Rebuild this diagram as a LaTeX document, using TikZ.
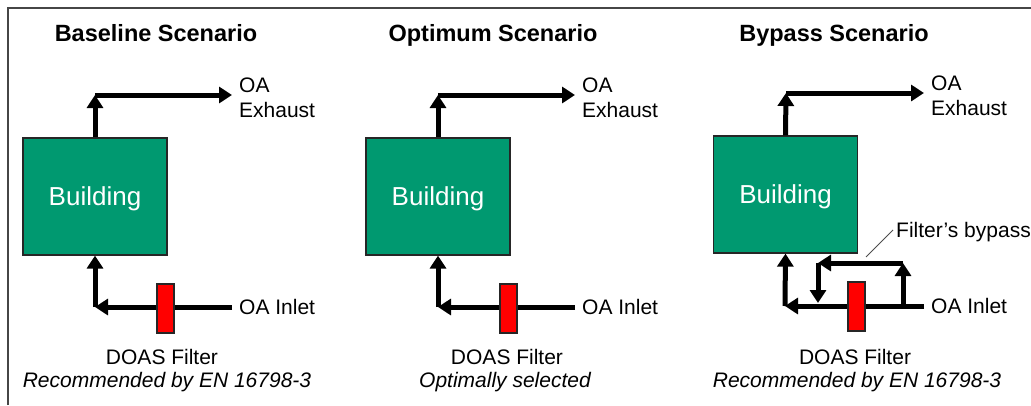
\documentclass[tikz,border=0pt]{standalone}
\usepackage{fontspec}
\setmainfont{Liberation Sans}
\usetikzlibrary{arrows.meta, positioning}

\definecolor{bldgreen}{RGB}{0,153,112}
\definecolor{framegray}{RGB}{70,70,70}

\tikzset{
  flow/.style={line width=5pt, -{Triangle[width=16pt,length=13pt]}},
  building/.style={draw=black!85, line width=1.2pt, fill=bldgreen, text=white,
    minimum width=144pt, minimum height=117pt, inner sep=0pt, text depth=0pt,
    font=\fontsize{26}{30}\selectfont},
  filterbox/.style={draw=black!85, line width=1.2pt, fill=red,
    minimum width=17pt, minimum height=49pt, inner sep=0pt},
  title/.style={font=\fontsize{23.5}{28}\selectfont\bfseries, text depth=0pt},
  lbl/.style={font=\fontsize{21}{25}\selectfont, inner sep=3pt, text depth=0pt},
  endlbl/.style={lbl, anchor=west, align=left, inner xsep=7pt},
  leader/.style={black!70, line width=0.8pt}
}

\begin{document}
\begin{tikzpicture}[x=1pt, y=-1pt]
  \useasboundingbox (0,0) rectangle (1031,405);

  % Frame (top and left edges only)
  \draw[framegray, line width=2pt] (8,405) -- (8,8) -- (1031,8);

  % ---- Baseline scenario ----
  \node[title] (t1) at (156,33) {Baseline Scenario};
  \node[building] (b1) at (95,196.5) {Building};

  % exhaust
  \coordinate (ex1) at (95,95);
  \node[endlbl] (oa1) at (232,98) {OA\\Exhaust};
  \draw[flow] (b1.north) -- (ex1);
  \draw[flow] (ex1) -- (ex1 -| oa1.west);

  % inlet through the filter
  \node[endlbl] (in1) at (232,307) {OA Inlet};
  \coordinate (c1) at (95,307);
  \draw[flow] (in1.west) -- (c1);
  \draw[flow] (c1) -- (b1.south);
  \node[filterbox] (f1) at (165.5,308.5) {};

  \node[lbl] (d1) at (162,357) {DOAS Filter};
  \node[lbl, font=\fontsize{21}{25}\selectfont\itshape] (r1) at (167,380) {Recommended by EN 16798-3};

  % ---- Optimum scenario ----
  \begin{scope}[xshift=343pt]
    \node[title] (t2) at (150,33) {Optimum Scenario};
    \node[building] (b2) at (95,196.5) {Building};

    \coordinate (ex2) at (95,95);
    \node[endlbl] (oa2) at (232,98) {OA\\Exhaust};
    \draw[flow] (b2.north) -- (ex2);
    \draw[flow] (ex2) -- (ex2 -| oa2.west);

    \node[endlbl] (in2) at (232,307) {OA Inlet};
    \coordinate (c2) at (95,307);
    \draw[flow] (in2.west) -- (c2);
    \draw[flow] (c2) -- (b2.south);
    \node[filterbox] (f2) at (165.5,308.5) {};

    \node[lbl] (d2) at (164,357) {DOAS Filter};
    \node[lbl, font=\fontsize{21}{25}\selectfont\itshape] (r2) at (162,380) {Optimally selected};
  \end{scope}

  % ---- Bypass scenario ----
  \begin{scope}[xshift=690pt]
    \node[title] (t3) at (144,33) {Bypass Scenario};
    \node[building] (b3) at (95.5,194.5) {Building};

    \coordinate (ex3) at (96,93);
    \node[endlbl] (oa3) at (234,96) {OA\\Exhaust};
    \draw[flow] (b3.north) -- (ex3);
    \draw[flow] (ex3) -- (ex3 -| oa3.west);

    \node[endlbl] (in3) at (234,306) {OA Inlet};
    \coordinate (c3) at (95,306);
    \draw[flow] (in3.west) -- (c3);
    \draw[flow] (c3) -- (b3.south);

    % bypass loop round the filter
    \coordinate (bp1) at (213,306);
    \coordinate (bp2) at (213,263);
    \coordinate (bp3) at (128,263);
    \coordinate (bp4) at (128,303);
    \draw[flow] (bp1) -- (bp2);
    \draw[flow] (bp2) -- (bp3);
    \draw[flow] (bp3) -- (bp4);
    \node[filterbox] (f3) at (166.5,306.5) {};

    \node[lbl, anchor=west] (fb) at (203,230) {Filter’s bypass};
    \coordinate (fbend) at (176,257);
    \draw[leader] (fb.west) -- (fbend);

    \node[lbl] (d3) at (165,357) {DOAS Filter};
    \node[lbl, font=\fontsize{21}{25}\selectfont\itshape] (r3) at (167,380) {Recommended by EN 16798-3};
  \end{scope}
\end{tikzpicture}
\end{document}
